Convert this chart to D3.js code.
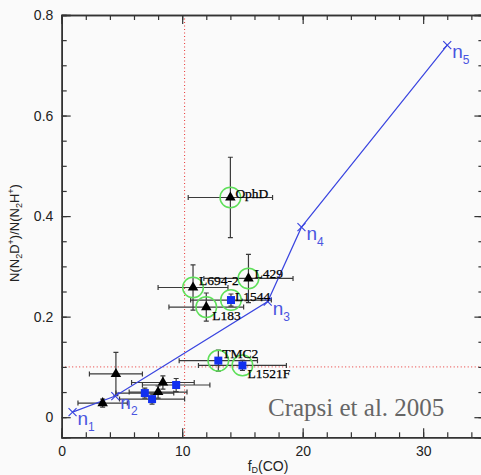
<!DOCTYPE html>
<html>
<head>
<meta charset="utf-8">
<script src="https://cdn.jsdelivr.net/npm/d3@7"></script>
<style>
  body { margin: 0; background: #fafafa; }
  svg { display: block; }
</style>
</head>
<body>
<svg width="481" height="475"></svg>
<script>
// black triangles
const triNames = ['', '', '', '', 'L694-2', 'L183', 'L429', 'OphD'];
const triX = [3.4, 4.5, 8.4, 8.0, 10.9, 12.0, 15.5, 14.0];
const triY = [0.028, 0.086, 0.069, 0.05, 0.258, 0.219, 0.276, 0.437];
const triXErr = [2.05, 2.2, 2.6, 2.4, 2.9, 3.1, 3.7, 3.5];
const triYErr = [0.008, 0.043, 0.013, 0.012, 0.045, 0.028, 0.048, 0.08];

// blue squares
const sqNames = ['', '', '', 'L1544', 'TMC2', 'L1521F'];
const sqX = [6.9, 7.5, 9.5, 14.05, 13.0, 15.0];
const sqY = [0.048, 0.036, 0.064, 0.233, 0.1125, 0.103];
const sqXErr = [2.4, 2.7, 2.8, 3.35, 3.25, 3.65];
const sqYErr = [0.01, 0.01, 0.013, 0.012, 0.021, 0.01];

// model track n1..n5
const modelNames = ['1', '2', '3', '4', '5'];
const modelX = [0.9, 4.45, 17.1, 19.9, 32];
const modelY = [0.01, 0.042, 0.23, 0.378, 0.74];

const refX = 10.2;
const refY = 0.1;

const xMajor = [0, 10, 20, 30];
const yMajor = [0, 0.2, 0.4, 0.6, 0.8];

const svg = d3.select('svg');
const x = d3.scaleLinear().domain([0, 35]).range([61.7, 483.4]);
const y = d3.scaleLinear().domain([-0.04, 0.8]).range([437.3, 15]);

const axisColor = '#333';
const font = '"Liberation Sans", Arial, sans-serif';

// label placement relative to the marker (px)
const labelOffset = {
  OphD: [5, -4],
  L429: [6, -5],
  'L694-2': [6, -7],
  L1544: [4, -4],
  L183: [6, 8],
  TMC2: [4, -7],
  L1521F: [5, 8],
};

const tri = triX.map((v, i) => ({ name: triNames[i], x: v, y: triY[i], ex: triXErr[i], ey: triYErr[i] }));
const sq = sqX.map((v, i) => ({ name: sqNames[i], x: v, y: sqY[i], ex: sqXErr[i], ey: sqYErr[i] }));
const model = modelX.map((v, i) => ({ name: modelNames[i], x: v, y: modelY[i] }));

// red dotted reference lines
svg.append('line')
  .attr('x1', x(refX)).attr('x2', x(refX))
  .attr('y1', y.range()[1]).attr('y2', y.range()[0])
  .attr('stroke', '#e8312f').attr('stroke-width', 1).attr('stroke-dasharray', '1,2.5');
svg.append('line')
  .attr('x1', x.range()[0]).attr('x2', x.range()[1])
  .attr('y1', y(refY)).attr('y2', y(refY))
  .attr('stroke', '#e8312f').attr('stroke-width', 1).attr('stroke-dasharray', '1,2.5');

// error bars
const all = tri.concat(sq);
const eb = svg.append('g').attr('stroke', '#3a3a3a').attr('stroke-width', 1.2).attr('fill', 'none');
const cap = 2.5;
all.forEach((d) => {
  const cx = x(d.x), cy = y(d.y);
  const x0 = x(d.x - d.ex), x1 = x(d.x + d.ex);
  const y0 = y(d.y - d.ey), y1 = y(d.y + d.ey);
  eb.append('path').attr('d',
    `M${x0},${cy}H${x1}` +
    `M${x0},${cy - cap}V${cy + cap}M${x1},${cy - cap}V${cy + cap}` +
    `M${cx},${y0}V${y1}` +
    `M${cx - cap},${y0}H${cx + cap}M${cx - cap},${y1}H${cx + cap}`);
});

// model line
svg.append('path')
  .datum(model)
  .attr('fill', 'none')
  .attr('stroke', '#3a45e0')
  .attr('stroke-width', 1.2)
  .attr('d', d3.line().x((d) => x(d.x)).y((d) => y(d.y)));

svg.append('g')
  .selectAll('path')
  .data(model)
  .join('path')
  .attr('d', (d) => {
    const px = x(d.x), py = y(d.y), s = 4;
    return `M${px - s},${py - s}L${px + s},${py + s}M${px - s},${py + s}L${px + s},${py - s}`;
  })
  .attr('stroke', '#3a45e0')
  .attr('stroke-width', 1.2);

const nLab = svg.append('g')
  .selectAll('text')
  .data(model)
  .join('text')
  .attr('x', (d) => x(d.x) + 5)
  .attr('y', (d) => y(d.y) + 13)
  .attr('fill', '#4a55e0')
  .attr('font-family', font)
  .attr('font-size', 19);
nLab.append('tspan').text('n');
nLab.append('tspan').attr('font-size', 12).attr('dy', 6).text((d) => d.name);

// green circles around named sources
svg.append('g')
  .selectAll('circle')
  .data(all.filter((d) => d.name))
  .join('circle')
  .attr('cx', (d) => x(d.x))
  .attr('cy', (d) => y(d.y))
  .attr('r', 10.3)
  .attr('fill', 'none')
  .attr('stroke', '#5fe05a')
  .attr('stroke-width', 1.5);

// markers
svg.append('g')
  .selectAll('path')
  .data(tri)
  .join('path')
  .attr('transform', (d) => `translate(${x(d.x)},${y(d.y)})`)
  .attr('d', d3.symbol(d3.symbolTriangle, 48))
  .attr('fill', '#000');

svg.append('g')
  .selectAll('rect')
  .data(sq)
  .join('rect')
  .attr('x', (d) => x(d.x) - 4)
  .attr('y', (d) => y(d.y) - 4)
  .attr('width', 8)
  .attr('height', 8)
  .attr('fill', '#1230f0');

// source labels
svg.append('g')
  .selectAll('text')
  .data(all.filter((d) => d.name))
  .join('text')
  .attr('x', (d) => x(d.x) + labelOffset[d.name][0])
  .attr('y', (d) => y(d.y) + labelOffset[d.name][1])
  .attr('dominant-baseline', 'central')
  .attr('font-family', '"Liberation Serif", "DejaVu Serif", serif')
  .attr('font-size', 13.5)
  .attr('fill', '#000')
  .attr('stroke', '#000')
  .attr('stroke-width', 0.25)
  .text((d) => d.name);

// axes (ticks point inward)
function styleAxis(g) {
  g.select('.domain').attr('stroke', axisColor).attr('stroke-width', 1.5);
  g.selectAll('.tick line').attr('stroke', axisColor).attr('stroke-width', 1.2);
  g.selectAll('.tick text').attr('fill', '#222').attr('font-family', font).attr('font-size', 14);
}
const xMinor = d3.range(0, 35.01, 2);
const yMinor = d3.range(0, 0.801, 0.05);

svg.append('g').attr('transform', `translate(0,${y.range()[0]})`)
  .call(d3.axisBottom(x).tickValues(xMinor).tickSize(-5).tickFormat(''))
  .call(styleAxis);
svg.append('g').attr('transform', `translate(0,${y.range()[0]})`)
  .call(d3.axisBottom(x).tickValues(xMajor).tickSize(-9).tickPadding(8.7).tickFormat(d3.format('d')))
  .call(styleAxis);
svg.append('g').attr('transform', `translate(0,${y.range()[1]})`)
  .call(d3.axisTop(x).tickValues(xMinor).tickSize(-5).tickFormat(''))
  .call(styleAxis);
svg.append('g').attr('transform', `translate(0,${y.range()[1]})`)
  .call(d3.axisTop(x).tickValues(xMajor).tickSize(-9).tickFormat(''))
  .call(styleAxis);

svg.append('g').attr('transform', `translate(${x.range()[0]},0)`)
  .call(d3.axisLeft(y).tickValues(yMinor).tickSize(-5).tickFormat(''))
  .call(styleAxis);
svg.append('g').attr('transform', `translate(${x.range()[0]},0)`)
  .call(d3.axisLeft(y).tickValues(yMajor).tickSize(-9).tickPadding(8.4).tickFormat((d) => (d === 0 ? '0' : d3.format('.1f')(d))))
  .call(styleAxis);
svg.append('g').attr('transform', `translate(${x.range()[1]},0)`)
  .call(d3.axisRight(y).tickValues(yMinor).tickSize(-5).tickFormat(''))
  .call(styleAxis);
svg.append('g').attr('transform', `translate(${x.range()[1]},0)`)
  .call(d3.axisRight(y).tickValues(yMajor).tickSize(-9).tickFormat(''))
  .call(styleAxis);

// axis titles
const xt = svg.append('text')
  .attr('x', 268).attr('y', 471)
  .attr('text-anchor', 'middle')
  .attr('font-family', font).attr('font-size', 14).attr('fill', '#222');
xt.append('tspan').text('f');
xt.append('tspan').attr('font-size', 9).attr('dy', 2).text('D');
xt.append('tspan').attr('dy', -2).text('(CO)');

const yt = svg.append('text')
  .attr('transform', 'translate(19,233) rotate(-90)')
  .attr('text-anchor', 'middle')
  .attr('font-family', font).attr('font-size', 13).attr('fill', '#222');
yt.append('tspan').text('N(N');
yt.append('tspan').attr('font-size', 9).attr('dy', 3).text('2');
yt.append('tspan').attr('dy', -3).text('D');
yt.append('tspan').attr('font-size', 9).attr('dy', -5).text('+');
yt.append('tspan').attr('dy', 5).text(')/N(N');
yt.append('tspan').attr('font-size', 9).attr('dy', 3).text('2');
yt.append('tspan').attr('dy', -3).text('H');
yt.append('tspan').attr('font-size', 9).attr('dy', -5).text('+');
yt.append('tspan').attr('dy', 5).text(')');

// citation
svg.append('text')
  .attr('x', 268).attr('y', 416)
  .attr('font-family', '"Liberation Serif", "DejaVu Serif", serif')
  .attr('font-size', 25)
  .attr('fill', '#666')
  .text('Crapsi et al. 2005');
</script>
</body>
</html>
